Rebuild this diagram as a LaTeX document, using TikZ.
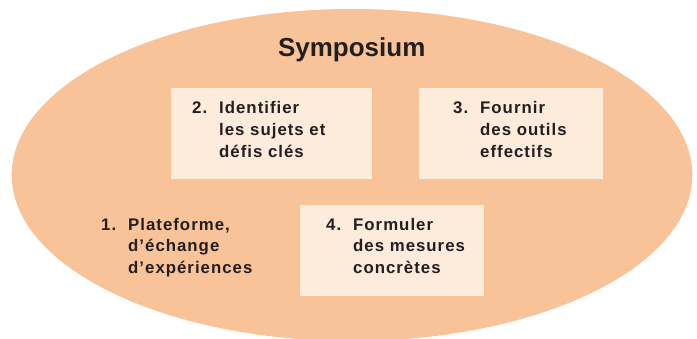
\documentclass[tikz,border=0pt]{standalone}
\usepackage{fontspec}
\setmainfont{Liberation Sans}
\usepackage{array}
\definecolor{ellfill}{HTML}{F9C39A}
\definecolor{boxfill}{HTML}{FDEBDC}
\definecolor{ink}{HTML}{231F20}
\newcommand{\itemtab}[4]{\begin{tabular}[t]{@{}l@{}l@{}}\makebox[27pt][l]{#1}&#2\\&#3\\&#4\end{tabular}}
\begin{document}
\begin{tikzpicture}[x=1pt,y=-1pt,
  panel/.style={fill=boxfill, draw=none},
  itemtext/.style={anchor=base west, inner sep=0pt, text=ink,
    font=\fontsize{16.8}{21.8}\selectfont\bfseries\addfontfeatures{LetterSpace=6}},
  titletext/.style={anchor=base, inner sep=0pt, text=ink,
    font=\fontsize{26}{30}\selectfont\bfseries}]
\useasboundingbox (0,0) rectangle (697,338);
\begin{scope}
\clip (0,0) rectangle (697,338);
\fill[ellfill] (352,175) ellipse [x radius=340.3, y radius=166];
\end{scope}
\fill[panel] (171,88) rectangle (372,178.5);
\fill[panel] (419,88) rectangle (603,178.5);
\fill[panel] (300,205) rectangle (484,295.7);
\node[titletext] (title) at (351.7,56) {Symposium};
\node[itemtext] (i2) at (192,113.6) {\itemtab{2.}{Identifier}{les sujets et}{défis clés}};
\node[itemtext] (i3) at (453,113.6) {\itemtab{3.}{Fournir}{des outils}{effectifs}};
\node[itemtext] (i4) at (326,230) {\itemtab{4.}{Formuler}{des mesures}{concrètes}};
\node[itemtext] (i1) at (101,230) {\itemtab{1.}{Plateforme,}{d’échange}{d’expériences}};
\end{tikzpicture}
\end{document}
